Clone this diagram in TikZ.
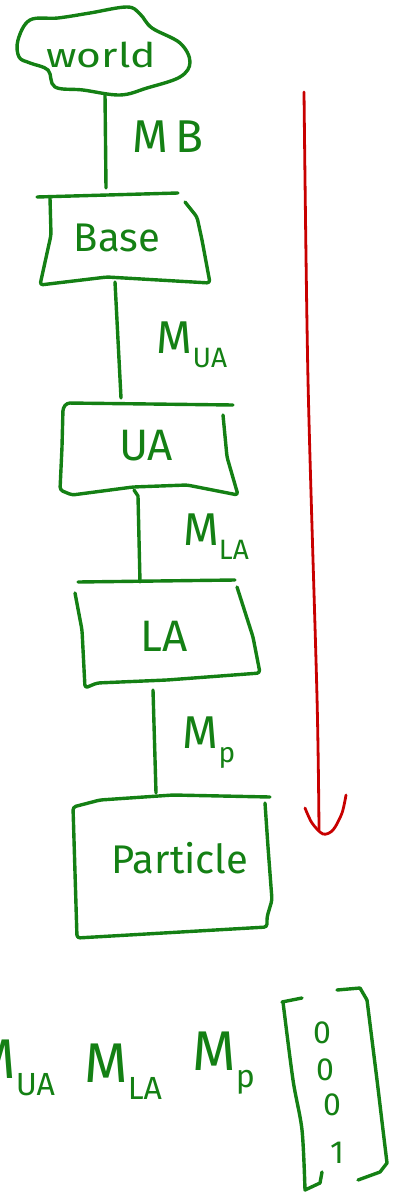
\documentclass[tikz,border=0pt]{standalone}
\usepackage{fontspec}
\setmainfont{Fira Sans}
\definecolor{hg}{RGB}{20,128,20}
\definecolor{hr}{RGB}{200,0,0}
\newcommand\Msub[1]{M\raisebox{-0.3em}{\fontsize{28}{30}\selectfont #1}}
\newcommand\Mbig[1]{M\raisebox{-0.32em}{\fontsize{32}{34}\selectfont #1}}
\begin{document}
\begin{tikzpicture}[x=1pt,y=-1pt,
  ink/.style={draw=hg,line width=3.4pt,line cap=round,line join=round},
  redink/.style={draw=hr,line width=2.8pt,line cap=round,line join=round},
  hw/.style={text=hg,inner sep=0pt,font=\fontsize{40}{44}\selectfont},
  lab/.style={text=hg,inner sep=0pt,font=\fontsize{46}{50}\selectfont},
  formula/.style={text=hg,inner sep=0pt,font=\fontsize{56}{60}\selectfont},
  digit/.style={text=hg,inner sep=0pt,font=\fontsize{32}{34}\selectfont},
]
\path[use as bounding box] (0,0) rectangle (402,1193);
\clip (0,0) rectangle (402,1193);

% world cloud
\draw[ink] plot[smooth cycle, tension=0.6] coordinates {(18,40) (30,20) (58,18) (90,13) (127,7) (140,14) (152,28) (180,43) (190,62) (180,77) (147,88) (120,95) (83,90) (55,87) (48,70) (30,63) (19,57)};
\node[hw, font=\fontsize{34}{38}\selectfont] (world) at (101,55) {\scalebox{1.25}[1]{world}};

% Base box
\draw[ink, rounded corners=3pt] (37,197) -- (178,193);
\draw[ink, rounded corners=3pt] (50,198) -- (51,235) -- (40,285) -- (107,277) -- (210,283) -- (202,240) -- (197,217) -- (185,202);
\node[hw] (base) at (117,238) {Base};

% UA box
\draw[ink, rounded corners=3pt] (233,405) -- (67,403) -- (63,408) -- (62,447) -- (60,490) -- (72,495) -- (133,487) -- (187,485) -- (238,495) -- (227,457) -- (223,415);
\node[hw, font=\fontsize{44}{48}\selectfont] (ua) at (146,446) {UA};

% LA box
\draw[ink, rounded corners=3pt] (78,582) -- (235,580);
\draw[ink, rounded corners=3pt] (75,593) -- (82,630) -- (85,688) -- (97,683) -- (167,680) -- (260,673) -- (253,637) -- (237,587);
\node[hw, font=\fontsize{44}{48}\selectfont] (la) at (164,636) {LA};

% Particle box
\draw[ink, rounded corners=3pt] (270,797) -- (173,795) -- (100,800) -- (73,807) -- (77,938) -- (267,927) -- (267,917) -- (272,900) -- (268,847) -- (265,803);
\node[hw, font=\fontsize{40}{44}\selectfont] (particle) at (180,858) {Particle};

% connector end points
\coordinate (worldS) at (105,94);
\coordinate (baseN) at (106,188);
\coordinate (baseS) at (115,282);
\coordinate (uaN) at (121,398);
\coordinate (uaS) at (134,490);
\coordinate (laN) at (140,582);
\coordinate (laS) at (153,690);
\coordinate (partN) at (156,793);

\draw[ink] (worldS) -- (baseN);
\draw[ink] (baseS) -- (uaN);
\draw[ink] (uaS) -- ++(4,6) -- (laN);
\draw[ink] (laS) -- (partN);

% connector labels
\node[lab] (mb) at (168,137) {M\,B};
\node[lab] (mua) at (192,345) {\Msub{UA}};
\node[lab] (mla) at (216,537) {\Msub{LA}};
\node[lab] (mp) at (209,743) {\Msub{p}};

% red arrow
\draw[redink] plot[smooth] coordinates {(304,92) (308,380) (317,697) (319,830)};
\draw[redink] plot[smooth] coordinates {(305,808) (312,823) (323,834) (333,830) (342,813) (346,795)};

% bottom formula
\node[formula, anchor=base west] (fua) at (-28,1078) {\Mbig{UA}};
\node[formula, anchor=base west] (fla) at (84,1082) {\Mbig{LA}};
\node[formula, anchor=base west] (fp) at (192,1070) {\Mbig{p}};

% matrix
\draw[ink] (302,998) -- (282,1002);
\draw[ink] plot[smooth] coordinates {(283,1002) (293,1080) (302,1130) (305,1190)} -- (320,1183) -- (322,1172);
\draw[ink] (337,990) -- (360,988) -- (367,1000);
\draw[ink] plot[smooth] coordinates {(367,1000) (377,1080) (383,1130) (387,1163)} -- (380,1172) -- (358,1180);
\node[digit] (d1) at (322,1033) {0};
\node[digit] (d2) at (325,1070) {0};
\node[digit] (d3) at (332,1105) {0};
\node[digit] (d4) at (337,1153) {1};
\end{tikzpicture}
\end{document}
